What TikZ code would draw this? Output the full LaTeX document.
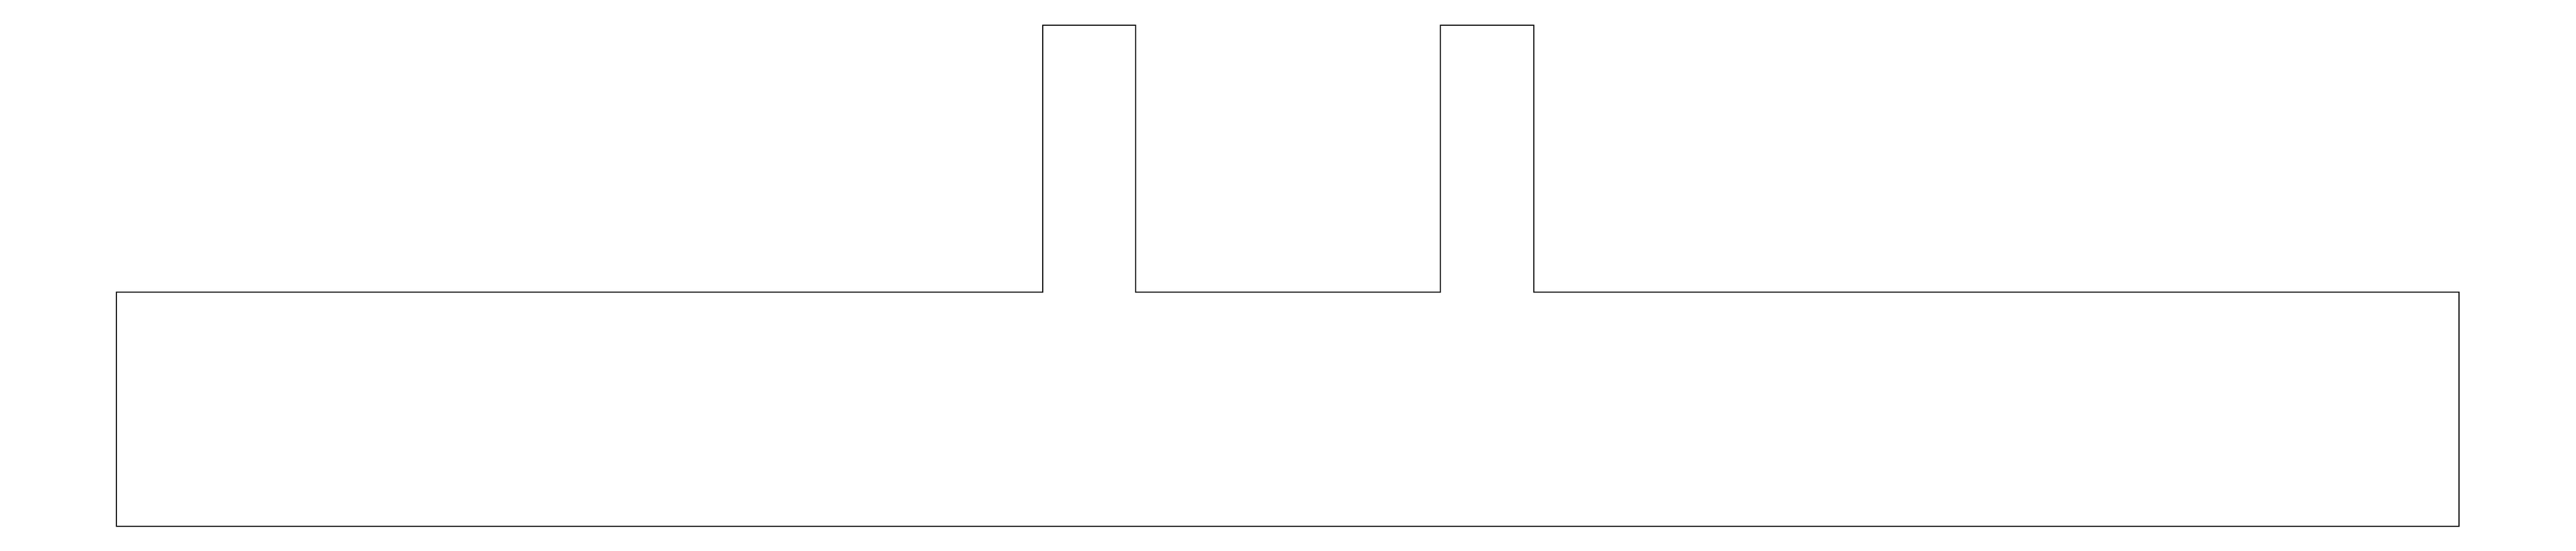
\documentclass[tikz,border=0pt]{standalone}
\usepackage{tikz}
\usetikzlibrary{calc}
\newcommand*\tabtop{9.79}
\newcommand*\bodytop{4.82}
\newcommand*\bodybottom{0.46}
\tikzstyle{outline}=[draw=black,line width=0.8pt]

\begin{document}
\begin{tikzpicture}
      \useasboundingbox (0,0) rectangle (48,10.26);
      % body with two tabs on top
      \draw[outline] (2.17,\bodybottom) -- (2.17,\bodytop) -- (19.43,\bodytop)
        -- (19.43,\tabtop) -- (21.16,\tabtop) -- (21.16,\bodytop)
        -- (26.84,\bodytop) -- (26.84,\tabtop) -- (28.58,\tabtop)
        -- (28.58,\bodytop) -- (45.82,\bodytop) -- (45.82,\bodybottom) -- cycle;
    \end{tikzpicture}
\end{document}
